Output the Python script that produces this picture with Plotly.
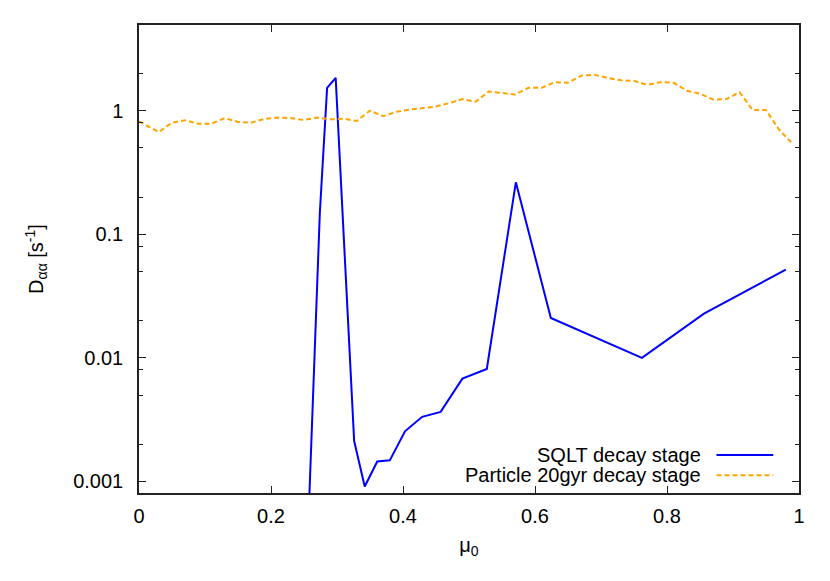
import plotly.graph_objects as go

# Particle 20gyr decay stage (orange dashed)
mu_particle = [0.0, 0.03, 0.05, 0.07, 0.09, 0.11, 0.13, 0.15, 0.17, 0.19,
               0.21, 0.23, 0.25, 0.27, 0.29, 0.31, 0.33, 0.35, 0.37, 0.39,
               0.41, 0.43, 0.45, 0.47, 0.49, 0.51, 0.53, 0.55, 0.57, 0.59,
               0.61, 0.63, 0.65, 0.67, 0.69, 0.71, 0.73, 0.75, 0.77, 0.79,
               0.81, 0.83, 0.85, 0.87, 0.89, 0.91, 0.93, 0.95, 0.97, 0.988]
d_particle = [0.82, 0.67, 0.80, 0.835, 0.785, 0.785, 0.87, 0.81, 0.80, 0.857,
              0.878, 0.87, 0.84, 0.88, 0.85, 0.86, 0.825, 1.0, 0.90, 0.98,
              1.02, 1.05, 1.08, 1.15, 1.24, 1.18, 1.43, 1.39, 1.35, 1.53,
              1.53, 1.70, 1.68, 1.92, 1.95, 1.84, 1.76, 1.74, 1.62, 1.70,
              1.68, 1.45, 1.37, 1.23, 1.24, 1.41, 1.01, 1.01, 0.70, 0.555]

# SQLT decay stage (blue solid)
mu_sqlt = [0.252, 0.274, 0.285, 0.298, 0.326, 0.342, 0.361, 0.380, 0.403,
           0.429, 0.457, 0.490, 0.527, 0.571, 0.624, 0.762, 0.856, 0.980]
d_sqlt = [0.0001, 0.149, 1.53, 1.84, 0.00212, 0.00091, 0.00145, 0.00148, 0.00254,
          0.00333, 0.00365, 0.00679, 0.00813, 0.263, 0.0210, 0.00998, 0.0228, 0.0517]

x_ticks = [0, 0.2, 0.4, 0.6, 0.8, 1]
x_tick_labels = ["0", "0.2", "0.4", "0.6", "0.8", "1"]
y_ticks = [0.001, 0.01, 0.1, 1]
y_tick_labels = ["0.001", "0.01", "0.1", "1"]
y_minor = [m * 10.0 ** e for e in range(-4, 1) for m in (2, 5, 8)]

legend_names = ["SQLT decay stage", "Particle 20gyr decay stage"]
blue = "#0000ff"
orange = "#ffa500"
FONT = "Liberation Sans, Arial, sans-serif"
FS = 20

fig = go.Figure()
fig.add_trace(go.Scatter(x=mu_sqlt, y=d_sqlt, mode="lines",
                         line=dict(color=blue, width=2), name=legend_names[0]))
fig.add_trace(go.Scatter(x=mu_particle, y=d_particle, mode="lines",
                         line=dict(color=orange, width=2, dash="5px,3px"),
                         name=legend_names[1]))

axis_common = dict(showline=True, linecolor="#222222", linewidth=1.5, mirror="ticks",
                   ticks="inside", ticklen=7, tickwidth=1.2, tickcolor="#222222",
                   showgrid=False, zeroline=False,
                   tickfont=dict(family=FONT, size=FS, color="black"))

# The page body adds an 8px offset; size the figure so the plot area lands where the reference has it
fig.update_layout(
    width=822, height=573,
    margin=dict(l=131, r=31, t=17, b=88),
    plot_bgcolor="white", paper_bgcolor="white",
    showlegend=False,
    font=dict(family=FONT, size=FS, color="black"),
    xaxis=dict(range=[0, 1], tickvals=x_ticks, ticktext=x_tick_labels,
               title=dict(text="μ<sub>0</sub>", font=dict(family=FONT, size=FS), standoff=12),
               ticklabelstandoff=4, **axis_common),
    yaxis=dict(type="log", range=[-3.094, 0.693], tickvals=y_ticks, ticktext=y_tick_labels,
               minor=dict(tickvals=y_minor, ticks="inside", ticklen=4, tickcolor="#222222"),
               title=dict(text="D<sub>αα</sub> [s<sup>-1</sup>]", font=dict(family=FONT, size=FS),
                          standoff=24),
               ticklabelstandoff=10, **axis_common),
)

# Custom gnuplot-style legend (text right-aligned, sample line on the right)
leg_y = [0.081, 0.038]
leg_styles = [dict(color=blue, width=2), dict(color=orange, width=2, dash="5px,3px")]
for name, yy, st in zip(legend_names, leg_y, leg_styles):
    fig.add_annotation(x=0.855, y=yy, xref="paper", yref="paper", text=name,
                       showarrow=False, xanchor="right", yanchor="middle",
                       font=dict(family=FONT, size=FS, color="black"))
    fig.add_shape(type="line", xref="paper", yref="paper", x0=0.875, x1=0.961,
                  y0=yy, y1=yy, line=st)

fig.write_html("out.html")
